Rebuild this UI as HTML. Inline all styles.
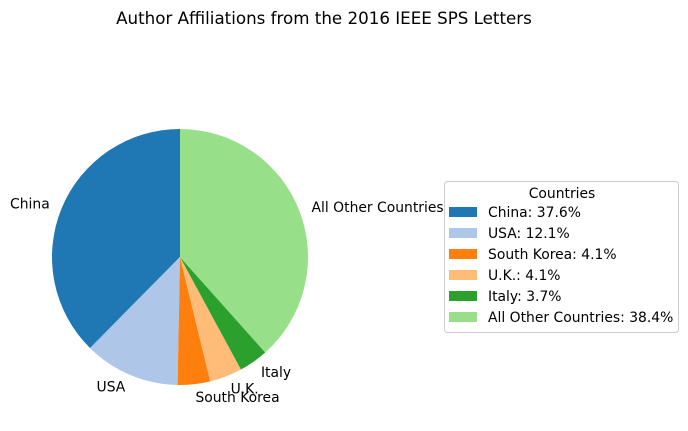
<!DOCTYPE html>
<html><head><meta charset="utf-8"><style>
body{margin:0;background:#fff;font-family:"DejaVu Sans","Liberation Sans",sans-serif;}
svg text{font-family:"DejaVu Sans","Liberation Sans",sans-serif;}
</style></head><body>
<svg id="chart" width="688" height="427" viewBox="0 0 688 427">
<rect width="688" height="427" fill="#fff"/>
<text x="324" y="24" font-size="16.7" text-anchor="middle">Author Affiliations from the 2016 IEEE SPS Letters</text>
<g id="slices"></g>
<g id="labels"></g>
<g id="legend">
<rect x="444.5" y="181.5" width="234" height="151" rx="3" fill="#fff" stroke="#ccc"/>
<text x="562" y="198" font-size="13.9" text-anchor="middle">Countries</text>
</g>
</svg>
<script>
const categories=["China","USA","South Korea","U.K.","Italy","All Other Countries"];
const values=[37.6,12.1,4.1,4.1,3.7,38.4];
const colors=["#1f77b4","#aec7e8","#ff7f0e","#ffbb78","#2ca02c","#98df8a"];
const NS="http://www.w3.org/2000/svg";
const cx=180,cy=257,r=128;
const total=values.reduce((a,b)=>a+b,0);
const sg=document.getElementById('slices'),lg=document.getElementById('labels'),leg=document.getElementById('legend');
let a=90;
function pt(deg,rr){const t=deg*Math.PI/180;return [cx+rr*Math.cos(t),cy-rr*Math.sin(t)];}
values.forEach((v,i)=>{
  const sweep=v/total*360;const a2=a+sweep;
  const p1=pt(a,r),p2=pt(a2,r);
  const path=document.createElementNS(NS,'path');
  path.setAttribute('d',`M${cx},${cy}L${p1[0]},${p1[1]}A${r},${r} 0 ${sweep>180?1:0} 0 ${p2[0]},${p2[1]}Z`);
  path.setAttribute('fill',colors[i]);
  
  
  sg.appendChild(path);
  const mid=a+sweep/2;const lp=pt(mid,r*1.1);
  const t=document.createElementNS(NS,'text');
  t.setAttribute('x',lp[0]);t.setAttribute('y',lp[1]+5);t.setAttribute('font-size','13.9');
  t.setAttribute('text-anchor',Math.cos(mid*Math.PI/180)<0?'end':'start');
  t.textContent=categories[i];
  
  
  lg.appendChild(t);
  const y=207+i*21;
  const rc=document.createElementNS(NS,'rect');
  rc.setAttribute('x',449);rc.setAttribute('y',y);rc.setAttribute('width',28);rc.setAttribute('height',10);rc.setAttribute('fill',colors[i]);
  
  
  leg.appendChild(rc);
  const lt=document.createElementNS(NS,'text');
  lt.setAttribute('x',488);lt.setAttribute('y',y+10);lt.setAttribute('font-size','13.9');
  lt.textContent=categories[i]+': '+v.toFixed(1)+'%';
  
  
  leg.appendChild(lt);
  a=a2;
});
</script>
</body></html>
